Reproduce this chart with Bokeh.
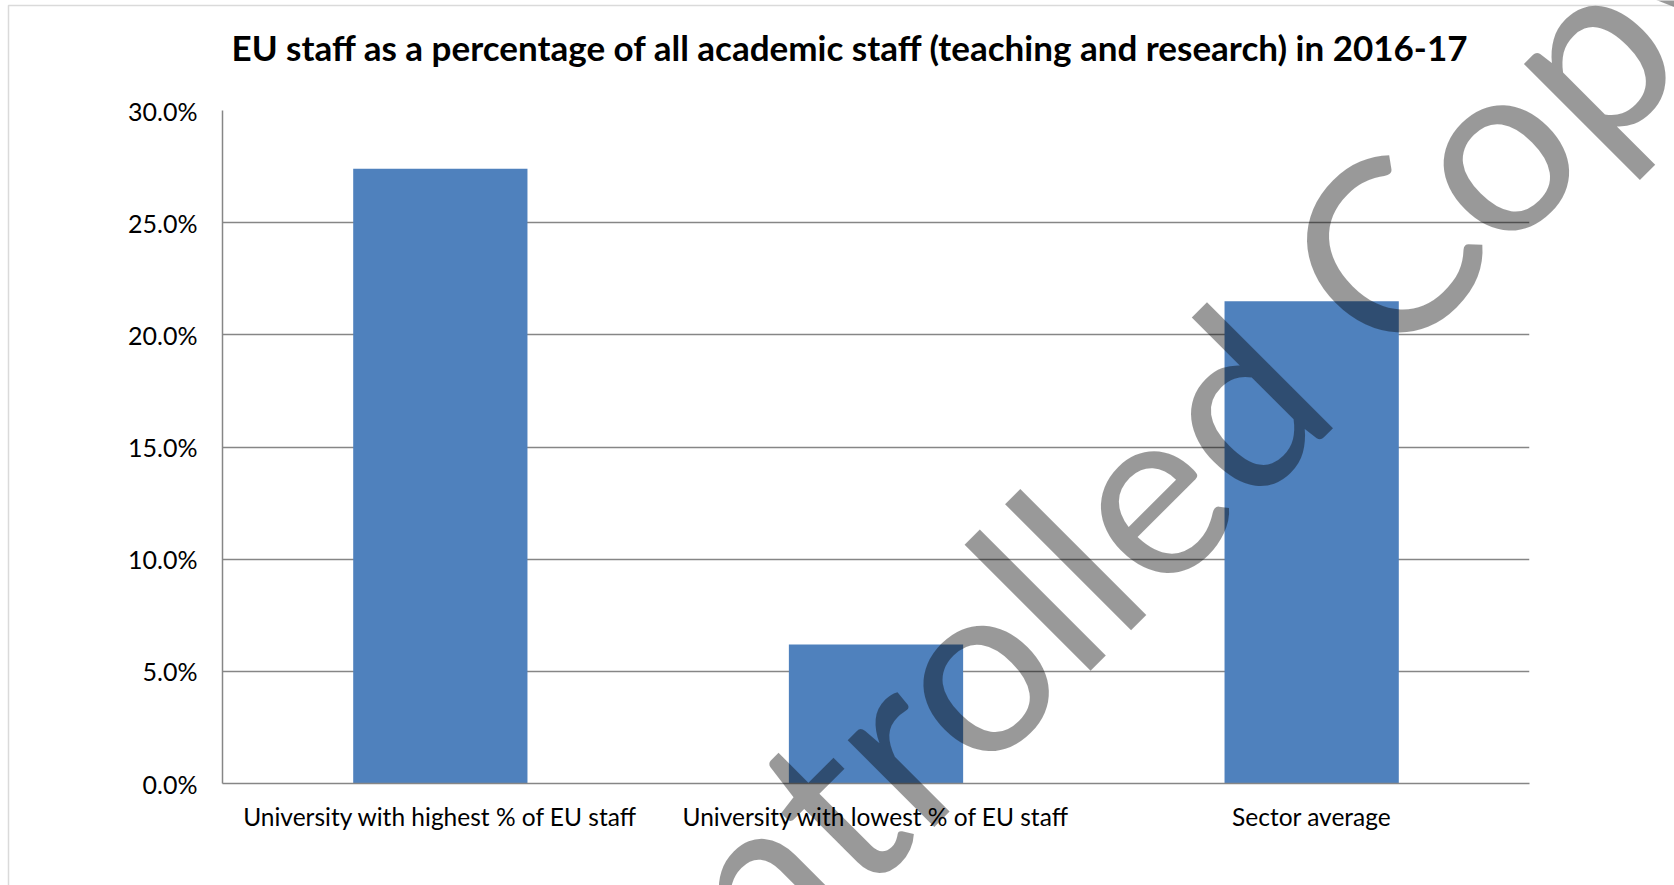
from bokeh.plotting import figure
from bokeh.models import (FactorRange, Range1d, FixedTicker, NumeralTickFormatter,
                          Label, BoxAnnotation, ColumnDataSource)
from bokeh.embed import file_html
from bokeh.resources import INLINE

# ---- data ----
categories = ["University with highest % of EU staff",
              "University with lowest % of EU staff",
              "Sector average"]
eu_share = [0.274, 0.062, 0.215]
y_ticks = [0.0, 0.05, 0.10, 0.15, 0.20, 0.25, 0.30]
title_text = "EU staff as a percentage of all academic staff (teaching and research) in 2016-17"
watermark_text = "Controlled Copy"

# ---- layout ----
W, H = 1674, 885
FL, FR, FT, FB = 222, 1529, 110, 783   # frame edges on the page
GRID = "#868686"
FONT = "Lato"

src = ColumnDataSource(dict(cat=categories, val=eu_share))

p = figure(width=W, height=H,
           x_range=FactorRange(factors=categories, range_padding=0),
           y_range=Range1d(0, 0.30),
           output_backend="svg", toolbar_location=None, title=None,
           min_border_left=FL, min_border_right=W - FR,
           min_border_top=FT, min_border_bottom=H - FB)
p.outline_line_color = None
p.background_fill_color = "white"
p.border_fill_color = "white"
p.styles = {"position": "absolute", "top": "0px", "left": "0px"}

p.vbar(x="cat", top="val", width=0.4, source=src,
       fill_color="#4F81BD", line_color=None)

# y axis
p.yaxis.ticker = FixedTicker(ticks=y_ticks)
p.yaxis.formatter = NumeralTickFormatter(format="0.0%")
p.yaxis.axis_line_color = GRID
p.yaxis.axis_line_width = 1.5
p.yaxis.major_tick_line_color = None
p.yaxis.minor_tick_line_color = None
p.yaxis.major_label_standoff = 19
p.yaxis.major_label_text_font = FONT
p.yaxis.major_label_text_font_size = "25px"
p.yaxis.major_label_text_color = "black"

# x axis
p.xaxis.axis_line_color = GRID
p.xaxis.axis_line_width = 1.5
p.xaxis.major_tick_line_color = None
p.xaxis.minor_tick_line_color = None
p.xaxis.major_label_standoff = 12
p.xaxis.major_label_text_font = FONT
p.xaxis.major_label_text_font_size = "24.5px"
p.xaxis.major_label_text_color = "black"

# grid
p.xgrid.grid_line_color = None
p.ygrid.ticker = FixedTicker(ticks=y_ticks)
p.ygrid.grid_line_color = GRID
p.ygrid.grid_line_width = 1.5

# ---- transparent overlay covering the whole page (title, watermark, outer border) ----
over = figure(width=W, height=H, x_range=Range1d(0, W), y_range=Range1d(0, H),
              x_axis_type=None, y_axis_type=None,
              output_backend="svg", toolbar_location=None, title=None,
              min_border=0, min_border_left=0, min_border_right=0,
              min_border_top=0, min_border_bottom=0)
over.outline_line_color = None
over.background_fill_alpha = 0
over.border_fill_alpha = 0
over.grid.visible = False
over.styles = {"position": "absolute", "top": "0px", "left": "0px",
               "pointer-events": "none"}

over.add_layout(Label(x=850, y=H - 46, text=title_text,
                      text_align="center", text_baseline="alphabetic",
                      text_font=FONT, text_font_style="bold", text_font_size="35px",
                      text_color="black"))

over.add_layout(Label(x=1102, y=H - 526, text=watermark_text,
                      angle=45, angle_units="deg",
                      text_align="center", text_baseline="alphabetic",
                      text_font=FONT, text_font_size="242px",
                      text_color="black", text_alpha=0.4))

over.add_layout(BoxAnnotation(left=8, right=W + 50, top=H - 5, bottom=-50,
                              fill_alpha=0, line_color=GRID, line_width=1.5))

open("out.html", "w").write(file_html([p, over], INLINE))
